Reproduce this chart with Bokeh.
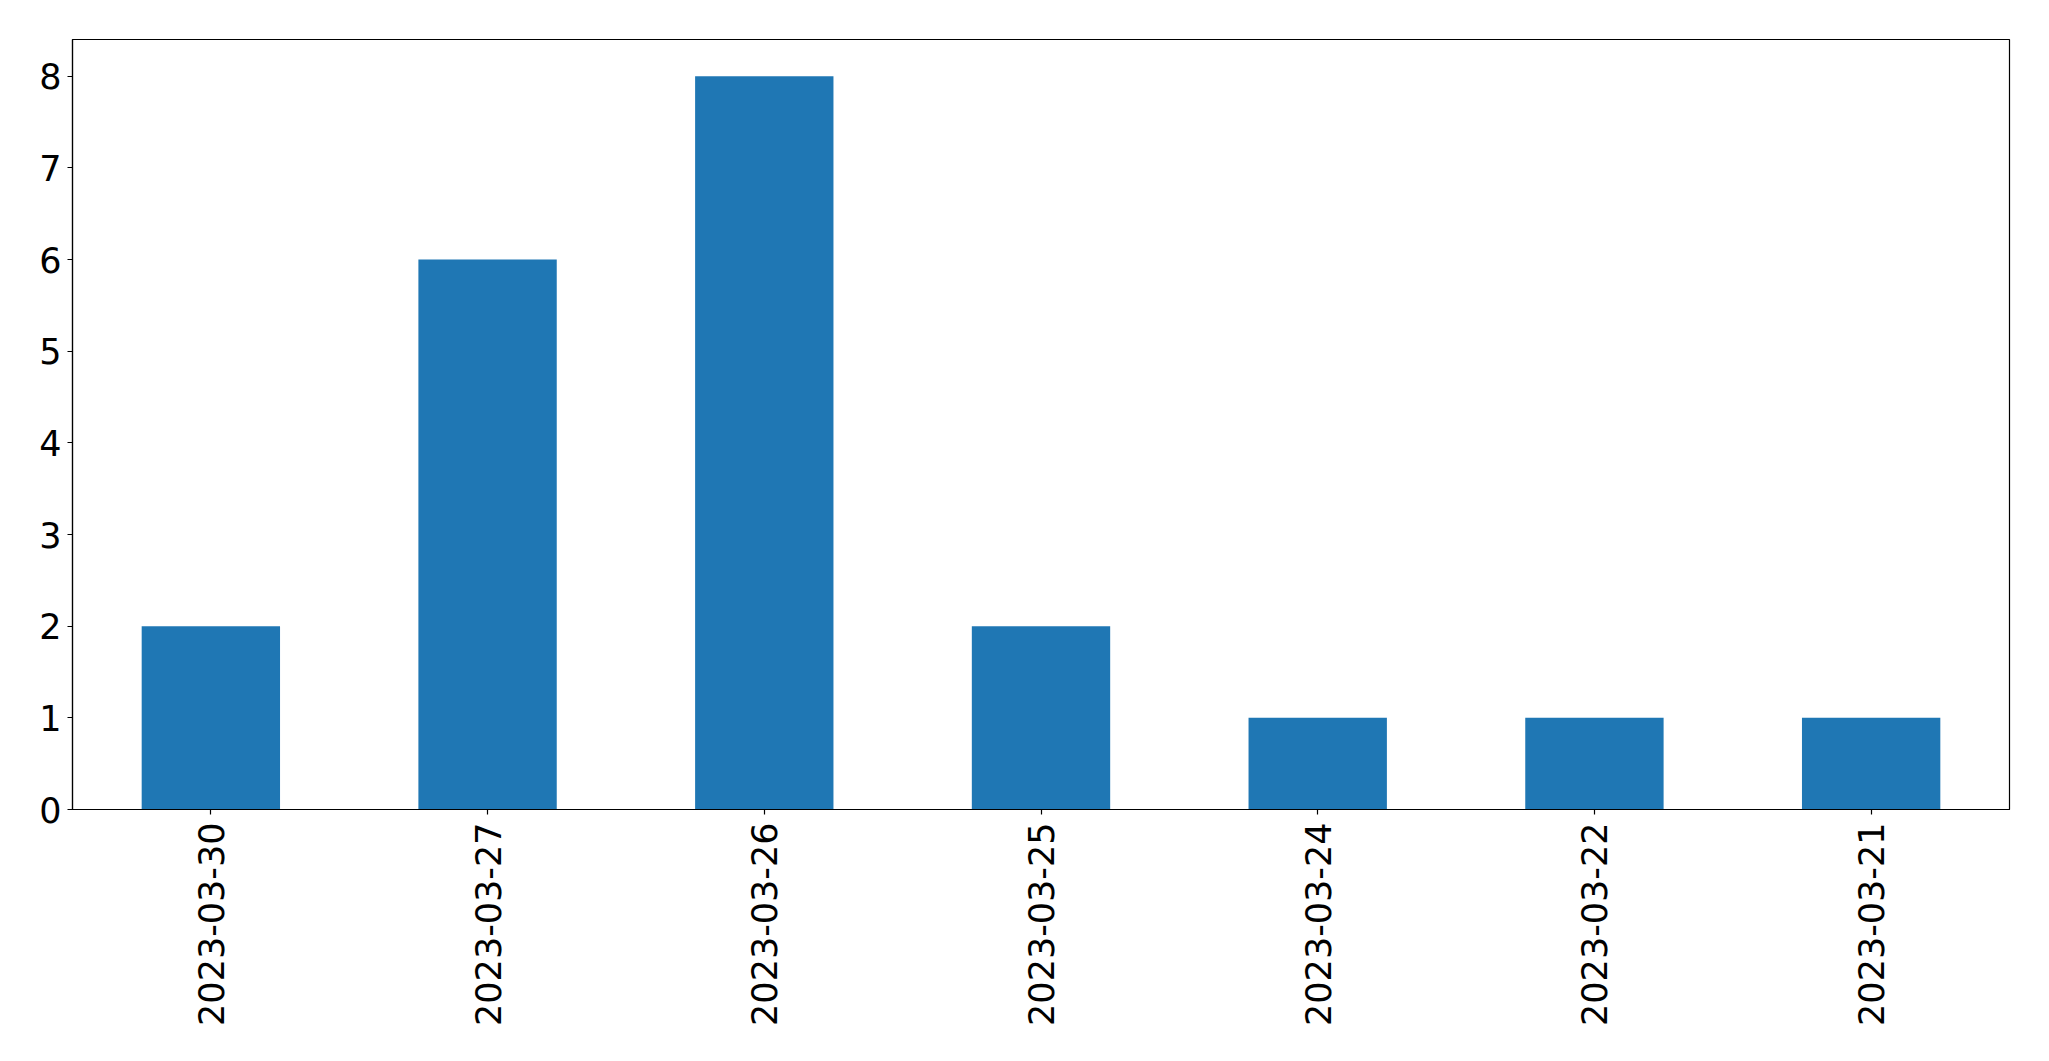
import math
from bokeh.plotting import figure
from bokeh.models import FactorRange, Range1d, FixedTicker, ColumnDataSource
from bokeh.embed import file_html
from bokeh.resources import INLINE

dates = ["2023-03-30", "2023-03-27", "2023-03-26", "2023-03-25", "2023-03-24", "2023-03-22", "2023-03-21"]
counts = [2, 6, 8, 2, 1, 1, 1]
y_ticks = [0, 1, 2, 3, 4, 5, 6, 7, 8]

source = ColumnDataSource(data=dict(dates=dates, counts=counts))

p = figure(
    width=2037, height=1049,
    x_range=FactorRange(*dates, range_padding=0),
    y_range=Range1d(0, 8.4),
    output_backend="svg", toolbar_location=None,
    min_border_left=72, min_border_right=28, min_border_top=39, min_border_bottom=240,
)
p.vbar(x="dates", top="counts", width=0.5, bottom=0, source=source,
       fill_color="#1f77b4", line_color=None)

p.xgrid.visible = False
p.ygrid.visible = False
p.outline_line_color = "black"
p.outline_line_alpha = 1
p.outline_line_width = 1.2

for ax in (p.xaxis[0], p.yaxis[0]):
    ax.major_label_text_font = "DejaVu Sans"
    ax.major_label_text_font_size = "35px"
    ax.major_label_text_color = "black"
    ax.axis_line_color = "black"
    ax.axis_line_width = 1.2
    ax.major_tick_line_color = "black"
    ax.major_tick_line_width = 1.2
    ax.major_tick_out = 5
    ax.major_tick_in = 0
    ax.minor_tick_line_color = None

p.yaxis[0].ticker = FixedTicker(ticks=y_ticks)
p.yaxis[0].major_label_standoff = 6
p.xaxis[0].major_label_orientation = math.pi / 2
p.xaxis[0].major_label_standoff = 8

open("out.html", "w").write(file_html(p, INLINE))
